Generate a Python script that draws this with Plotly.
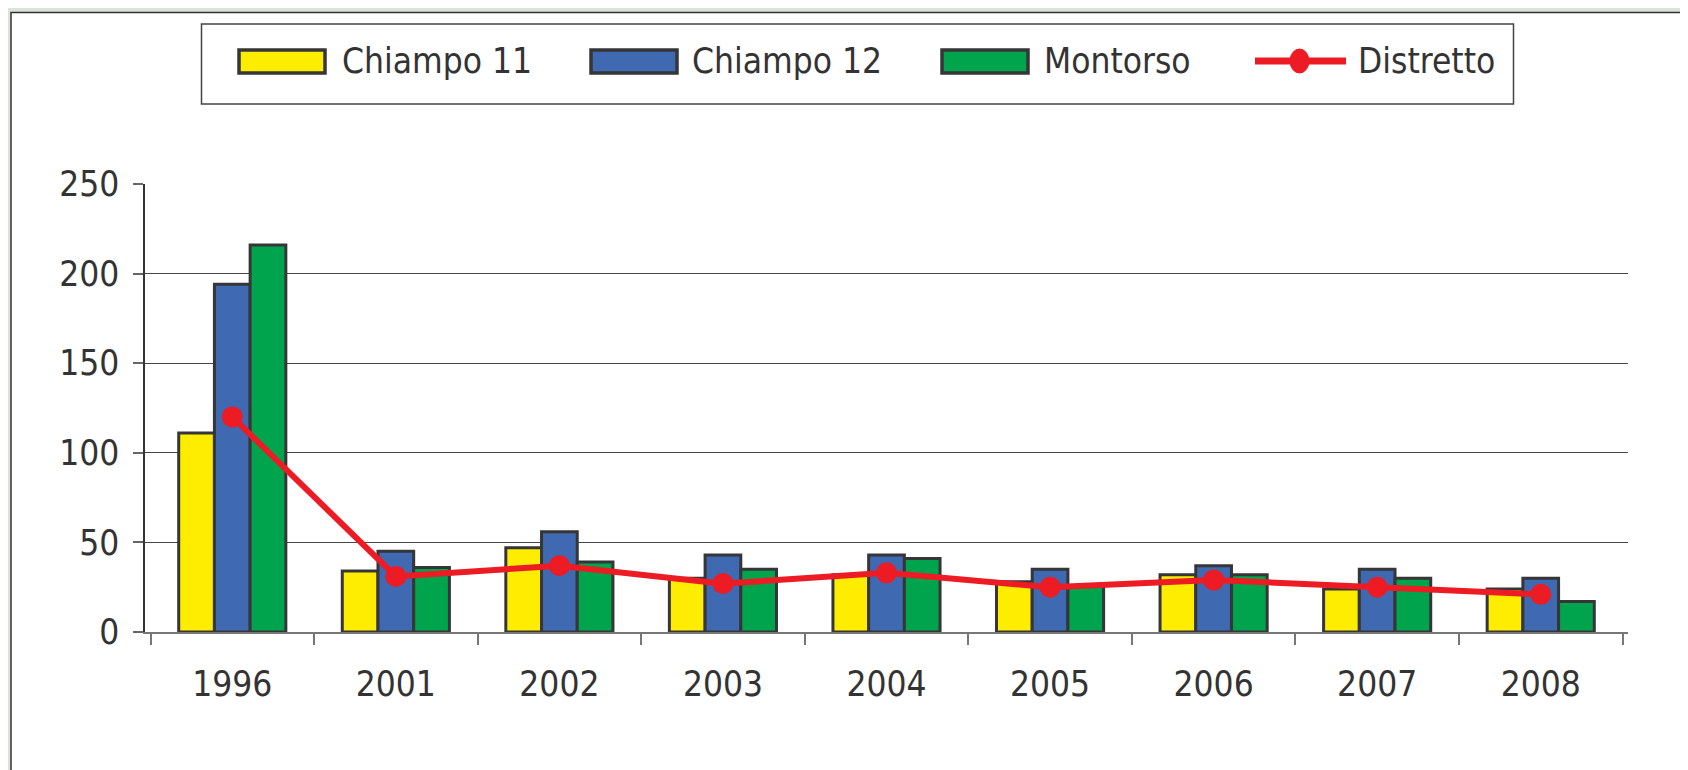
import plotly.graph_objects as go

# values
anni = ['1996', '2001', '2002', '2003', '2004', '2005', '2006', '2007', '2008']
chiampo_11 = [111, 34, 47, 30, 32, 28, 32, 24, 24]
chiampo_12 = [194, 45, 56, 43, 43, 35, 37, 35, 30]
montorso = [216, 36, 39, 35, 41, 26, 32, 30, 17]
distretto = [120, 31, 37, 27, 33, 25, 29, 25, 21]

serie = ['Chiampo 11', 'Chiampo 12', 'Montorso', 'Distretto']
colori = ['#FFED00', '#3F69B0', '#00A44C', '#ED1C24']

FONT = 'Liberation Sans Narrow, Arial Narrow, DejaVu Sans Condensed, sans-serif'
FS = 35
W, H = 1688, 770
OFF = 8  # page body margin
ML, MR, MT, MB = 145 - OFF, 68, 184 - OFF, 146
PW, PH = W - ML - MR, H - MT - MB


def px(x):
    # screen pixel -> paper x
    return (x - OFF - ML) / PW


def py(y):
    # screen pixel -> paper y
    return (H - MB - (y - OFF)) / PH


fig = go.Figure()

for nome, vals, col in zip(serie[:3], [chiampo_11, chiampo_12, montorso], colori[:3]):
    fig.add_trace(go.Bar(
        x=anni, y=vals, name=nome,
        marker=dict(color=col, line=dict(color='#363638', width=3)),
        showlegend=False,
    ))

fig.add_trace(go.Scatter(
    x=anni, y=distretto, name='Distretto', mode='lines+markers',
    line=dict(color=colori[3], width=6),
    marker=dict(color=colori[3], size=21),
    showlegend=False,
))

shapes = []
# white panel over the greenish background
shapes.append(dict(type='rect', xref='paper', yref='paper', layer='below',
                   x0=px(11), x1=px(W + 20), y0=py(H + 20), y1=py(12.5),
                   fillcolor='white', line=dict(color='#333333', width=1.5)))
# legend box
shapes.append(dict(type='rect', xref='paper', yref='paper',
                   x0=px(201.5), x1=px(1513.5), y0=py(104), y1=py(24),
                   fillcolor='white', line=dict(color='#444444', width=1.5)))

annotations = []
sw_x = [239, 591, 942]
txt_x = [340, 690, 1042, 1356]
for i in range(3):
    shapes.append(dict(type='rect', xref='paper', yref='paper',
                       x0=px(sw_x[i]), x1=px(sw_x[i] + 86), y0=py(73), y1=py(50),
                       fillcolor=colori[i], line=dict(color='#363638', width=3.5)))
for i in range(4):
    annotations.append(dict(xref='paper', yref='paper', x=px(txt_x[i]), y=py(61),
                            xanchor='left', yanchor='middle', showarrow=False,
                            text=serie[i], font=dict(family=FONT, size=FS, color='#333333')))
# Distretto legend symbol
shapes.append(dict(type='line', xref='paper', yref='paper',
                   x0=px(1255), x1=px(1346), y0=py(61), y1=py(61),
                   line=dict(color=colori[3], width=7)))
shapes.append(dict(type='circle', xref='paper', yref='paper',
                   x0=px(1290), x1=px(1309), y0=py(73), y1=py(49),
                   fillcolor=colori[3], line=dict(color=colori[3], width=1)))

fig.update_layout(
    width=W, height=H,
    margin=dict(l=ML, r=MR, t=MT, b=MB),
    paper_bgcolor='#d9e3d8',
    plot_bgcolor='rgba(0,0,0,0)',
    barmode='group', bargap=0.345, bargroupgap=0,
    font=dict(family=FONT, size=FS, color='#333333'),
    shapes=shapes, annotations=annotations,
)
fig.update_xaxes(
    type='category', showgrid=False,
    showline=True, linecolor='#777777', linewidth=1.5,
    ticks='outside', tickson='boundaries', ticklen=11, tickcolor='#777777', tickwidth=1.5,
    tickfont=dict(family=FONT, size=FS, color='#333333'),
    ticklabelstandoff=20,
)
fig.update_yaxes(
    range=[0, 250], dtick=50,
    showgrid=True, gridcolor='#474747', gridwidth=1.4,
    showline=True, linecolor='#333333', linewidth=1.5,
    ticks='outside', ticklen=10, tickcolor='#666666', tickwidth=1.5,
    tickfont=dict(family=FONT, size=FS, color='#333333'),
    ticklabelstandoff=7,
    zeroline=False,
)

fig.write_html("out.html")
